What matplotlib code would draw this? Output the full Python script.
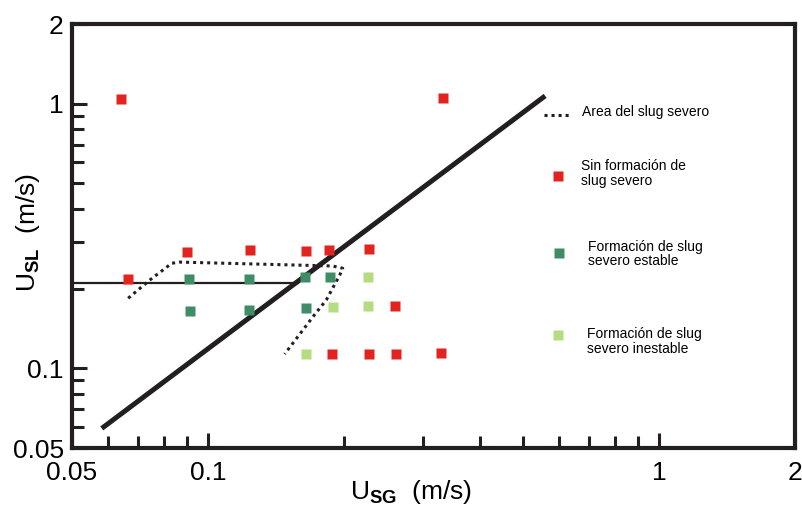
# Mapa de flujo: area del slug severo (U_SL vs U_SG)
import matplotlib.pyplot as plt
import numpy as np

plt.rcParams['font.family'] = ['Liberation Sans', 'DejaVu Sans']
plt.rcParams['mathtext.fontset'] = 'custom'
plt.rcParams['mathtext.rm'] = 'Liberation Sans'
plt.rcParams['mathtext.bf'] = 'Liberation Sans:bold'

# Sin formacion de slug severo (rojo)
sin_x = [0.0642, 0.332, 0.0665, 0.0898, 0.1238, 0.165, 0.1853, 0.2272,
         0.260, 0.1887, 0.2272, 0.261, 0.3286]
sin_y = [1.042, 1.050, 0.2171, 0.276, 0.280, 0.278, 0.280, 0.283,
         0.172, 0.113, 0.113, 0.113, 0.1143]

# Formacion de slug severo estable (verde oscuro)
est_x = [0.0907, 0.1236, 0.1644, 0.1862, 0.0914, 0.1233, 0.1648]
est_y = [0.2171, 0.218, 0.2208, 0.2208, 0.1643, 0.1667, 0.1695]

# Formacion de slug severo inestable (verde claro)
ine_x = [0.226, 0.1897, 0.226, 0.165]
ine_y = [0.222, 0.171, 0.172, 0.113]

# frontera (linea gruesa) y linea horizontal
diag_x = [0.0582, 0.559]
diag_y = [0.0593, 1.07]
hor_x = [0.05, 0.158]
hor_y = [0.2107, 0.2107]

# area del slug severo (punteada)
area_x = [0.0666, 0.0744, 0.0832, 0.0867, 0.189, 0.199, 0.196, 0.183, 0.171, 0.148]
area_y = [0.184, 0.2157, 0.2495, 0.252, 0.2436, 0.2388, 0.2252, 0.1813, 0.1567, 0.1133]

red = '#e2231f'
dgreen = '#3e8d66'
lgreen = '#b6dc82'
ink = '#231f20'

fig = plt.figure(figsize=(8.02, 5.08), dpi=100)
ax = fig.add_axes([72/802, 1-448/508, (795-72)/802, (448-24)/508])
ax.set_xscale('log')
ax.set_yscale('log')
ax.set_xlim(0.05, 2)
ax.set_ylim(0.05, 2)

ax.plot(hor_x, hor_y, color=ink, lw=1.6)
ax.plot(area_x, area_y, color=ink, lw=2.2, ls=(0, (1, 1.3)))
ax.plot(diag_x, diag_y, color=ink, lw=3.6, solid_capstyle='butt')

ms = 6.5
ax.plot(sin_x, sin_y, 's', color=red, ms=ms, mec='none')
ax.plot(est_x, est_y, 's', color=dgreen, ms=ms, mec='none')
ax.plot(ine_x, ine_y, 's', color=lgreen, ms=ms, mec='none')

# ticks
ticks = [0.05, 0.1, 1, 2]
labels = ['0.05', '0.1', '1', '2']
minors = [0.06, 0.07, 0.08, 0.09, 0.2, 0.3, 0.4, 0.5, 0.6, 0.7, 0.8, 0.9]
ax.set_xticks(ticks, labels)
ax.set_yticks(ticks, labels)
ax.set_xticks(minors, minor=True)
ax.set_yticks(minors, minor=True)
ax.xaxis.set_minor_formatter(plt.NullFormatter())
ax.yaxis.set_minor_formatter(plt.NullFormatter())
ax.tick_params(which='both', direction='in', width=2.2, color=ink,
               labelsize=19, top=False, right=False)
ax.tick_params(which='major', length=11)
ax.tick_params(which='minor', length=8.5)
ax.tick_params(axis='x', pad=9)
ax.tick_params(axis='y', pad=6)
for s in ax.spines.values():
    s.set_linewidth(3)
    s.set_color(ink)

ax.set_xlabel(r'$\mathrm{U}_{\mathbf{SG}}$  (m/s)', fontsize=19)
ax.set_ylabel(r'$\mathrm{U}_{\mathbf{SL}}$  (m/s)', fontsize=19)
ax.xaxis.set_label_coords(0.469, -0.071)
ax.yaxis.set_label_coords(-0.0415, 0.507)

# leyenda a mano
def fx(px):
    return px / 802
def fy(py):
    return 1 - py / 508

fs = 10
ax.plot([fx(544), fx(569)], [fy(115), fy(115)], transform=fig.transFigure,
        color=ink, lw=2.2, ls=(0, (1, 1.3)), clip_on=False)
fig.text(fx(581.7), fy(111.7), 'Area del slug severo', fontsize=fs, va='center')
ax.plot([fx(558.3)], [fy(176)], 's', color=red, ms=ms, mec='none',
        transform=fig.transFigure, clip_on=False)
fig.text(fx(581), fy(173.5), 'Sin formación de\nslug severo', fontsize=fs,
         va='center', linespacing=1.05)
ax.plot([fx(559.3)], [fy(253.3)], 's', color=dgreen, ms=ms, mec='none',
        transform=fig.transFigure, clip_on=False)
fig.text(fx(588.3), fy(254), 'Formación de slug\nsevero estable', fontsize=fs,
         va='center', linespacing=1.05)
ax.plot([fx(558.3)], [fy(335)], 's', color=lgreen, ms=ms, mec='none',
        transform=fig.transFigure, clip_on=False)
fig.text(fx(586.7), fy(341.3), 'Formación de slug\nsevero inestable', fontsize=fs,
         va='center', linespacing=1.05)

fig.savefig('out.png', dpi=100)
